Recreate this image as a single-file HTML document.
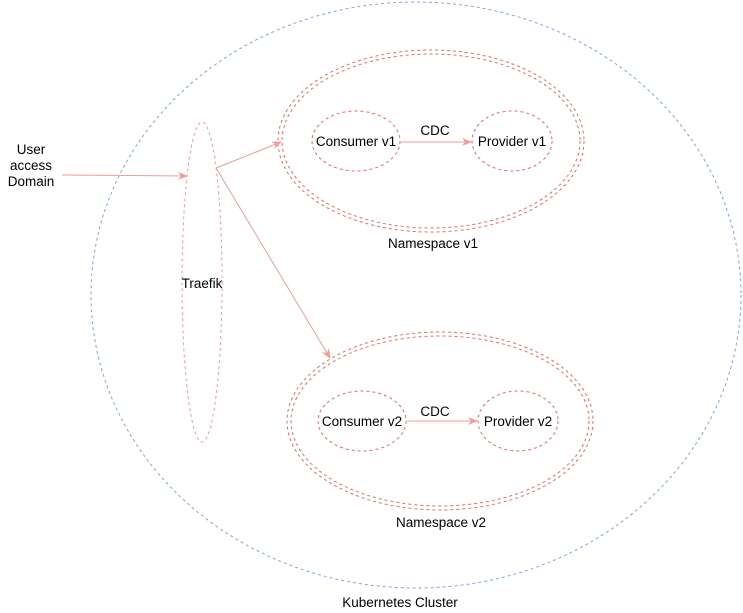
<!DOCTYPE html>
<html><head><meta charset="utf-8"><style>html,body{margin:0;padding:0;background:#fff}svg{display:block}text{font-family:"Liberation Sans",sans-serif;font-size:13.5px;fill:#000}</style></head><body>
<svg width="743" height="613" viewBox="0 0 743 613" xmlns="http://www.w3.org/2000/svg">
<defs><marker id="a" markerWidth="10" markerHeight="10" refX="9" refY="5" orient="auto" markerUnits="userSpaceOnUse"><path d="M0,1 L10,5 L0,9 L3,5 Z" fill="#f19c99"/></marker></defs>
<g fill="none" stroke-dasharray="3,3">
<ellipse cx="416" cy="295" rx="325" ry="293" stroke="#7ea6e0"/>
<ellipse cx="202" cy="282" rx="20" ry="160" stroke="#f19c99"/>
<g stroke="#ea6b66">
<ellipse cx="431" cy="141" rx="153" ry="91"/><ellipse cx="431" cy="141" rx="149" ry="87"/>
<ellipse cx="356" cy="141" rx="44" ry="30"/><ellipse cx="512" cy="141" rx="40" ry="30"/>
<ellipse cx="440" cy="421" rx="153" ry="89"/><ellipse cx="440" cy="421" rx="149" ry="85"/>
<ellipse cx="362" cy="421" rx="44" ry="30"/><ellipse cx="518" cy="421" rx="40" ry="30"/>
</g></g>
<g stroke="#f19c99" fill="none" marker-end="url(#a)">
<line x1="62" y1="175" x2="187" y2="176"/>
<line x1="216" y1="168" x2="281" y2="142"/>
<line x1="216" y1="168" x2="330" y2="358"/>
<line x1="401" y1="142" x2="471" y2="142"/>
<line x1="407" y1="421" x2="477" y2="421"/>
</g>
<g text-anchor="middle">
<text x="31" y="154">User</text><text x="31" y="170">access</text><text x="31" y="186">Domain</text>
<text x="202" y="288">Traefik</text>
<text x="356" y="146">Consumer v1</text><text x="512" y="146">Provider v1</text><text x="435" y="135">CDC</text>
<text x="433" y="248">Namespace v1</text>
<text x="362" y="426">Consumer v2</text><text x="518" y="426">Provider v2</text><text x="435" y="416">CDC</text>
<text x="441" y="527">Namespace v2</text>
<text x="400" y="607">Kubernetes Cluster</text>
</g>
</svg>
</body></html>
